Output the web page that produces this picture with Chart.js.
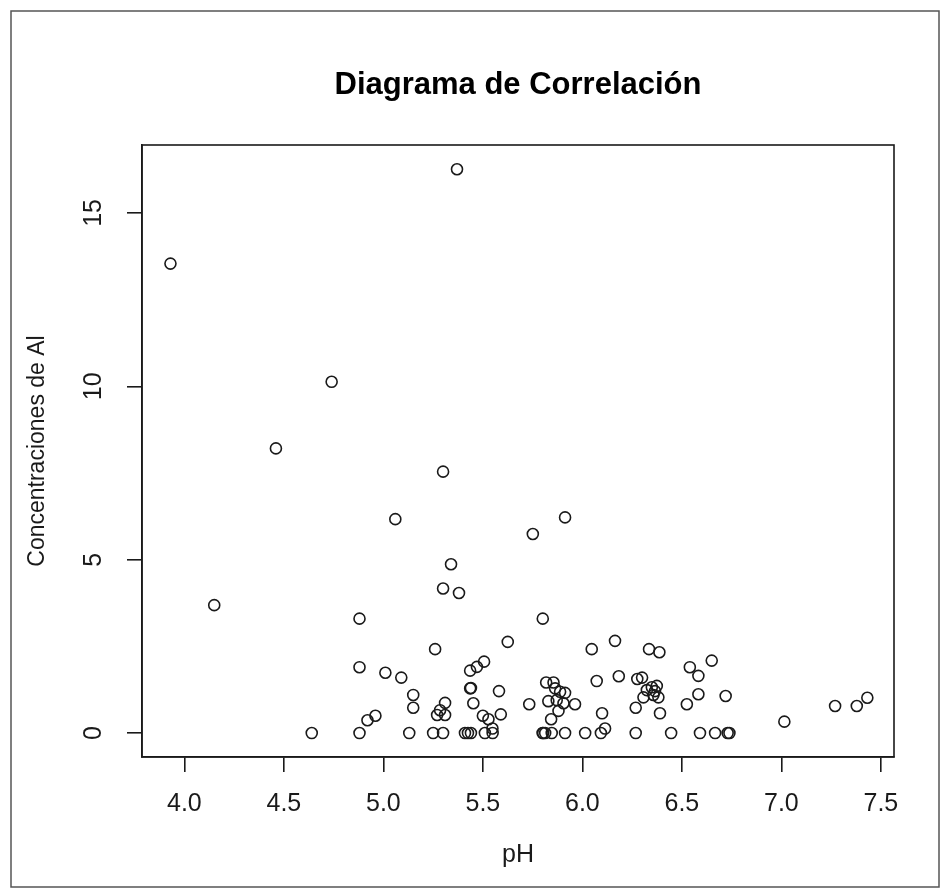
<!DOCTYPE html>
<html>
<head>
<meta charset="utf-8">
<script src="https://cdn.jsdelivr.net/npm/chart.js@4.4.1/dist/chart.umd.min.js"></script>
<style>
  html, body { margin: 0; padding: 0; background: #fff; }
  #wrap { position: relative; width: 949px; height: 888px; }
</style>
</head>
<body>
<div id="wrap"><canvas id="corr" width="949" height="888"></canvas></div>
<script>
// ---------------------- Data ----------------------
const phValues = [
  3.93, 4.15, 4.46, 4.74, 4.64, 4.88, 4.88, 4.88, 4.92, 4.96,
  5.01, 5.06, 5.09, 5.13, 5.15, 5.15, 5.25, 5.26, 5.27, 5.285,
  5.31, 5.31, 5.30, 5.30, 5.30, 5.34, 5.37, 5.38, 5.41, 5.425,
  5.44, 5.436, 5.47, 5.506, 5.436, 5.44, 5.452, 5.581, 5.50, 5.528,
  5.59, 5.548, 5.51, 5.549, 5.625, 5.733, 5.751, 5.801, 5.913, 5.818,
  5.855, 5.863, 5.888, 5.913, 5.829, 5.871, 5.905, 5.963, 5.88, 5.843,
  5.80, 5.803, 5.813, 5.846, 5.913, 6.014, 6.093, 6.114, 6.047, 6.164,
  6.072, 6.183, 6.099, 6.268, 6.268, 6.276, 6.30, 6.335, 6.387, 6.324,
  6.349, 6.374, 6.357, 6.382, 6.307, 6.39, 6.365, 6.446, 6.54, 6.583,
  6.583, 6.525, 6.591, 6.65, 6.72, 6.667, 6.73, 6.739, 7.015, 7.27,
  7.379, 7.432
];
const alValues = [
  13.54, 3.69, 8.21, 10.13, 0, 3.30, 1.90, 0, 0.37, 0.50,
  1.74, 6.17, 1.60, 0, 1.10, 0.73, 0, 2.42, 0.52, 0.66,
  0.87, 0.52, 0, 7.54, 4.17, 4.87, 16.26, 4.04, 0, 0,
  0, 1.80, 1.91, 2.06, 1.29, 1.30, 0.86, 1.21, 0.50, 0.40,
  0.54, 0.13, 0, 0, 2.63, 0.83, 5.74, 3.30, 6.22, 1.46,
  1.46, 1.29, 1.19, 1.16, 0.92, 0.95, 0.86, 0.83, 0.64, 0.40,
  0, 0, 0, 0, 0, 0, 0, 0.13, 2.42, 2.66,
  1.50, 1.64, 0.57, 0, 0.73, 1.56, 1.60, 2.42, 2.33, 1.24,
  1.32, 1.36, 1.10, 1.03, 1.03, 0.57, 1.21, 0, 1.90, 1.65,
  1.12, 0.83, 0, 2.09, 1.07, 0, 0, 0, 0.33, 0.78,
  0.78, 1.02
];
const xTicks = [4.0, 4.5, 5.0, 5.5, 6.0, 6.5, 7.0, 7.5];
const yTicks = [0, 5, 10, 15];

const TITLE = 'Diagrama de Correlación';
const XLAB = 'pH';
const YLAB = 'Concentraciones de Al';

// ---------------------- Style ----------------------
const INK = '#1a1a1a';
const FONT = '"Liberation Sans", Arial, sans-serif';

const points = phValues.map((x, i) => ({ x, y: alValues[i] }));

// R-like extras: box, title, axis labels, rotated y ticks, outer frame
const rDecor = {
  id: 'rDecor',
  beforeDraw(chart) {
    const ctx = chart.ctx;
    ctx.save();
    ctx.fillStyle = '#fff';
    ctx.fillRect(0, 0, chart.width, chart.height);
    ctx.restore();
  },
  afterDraw(chart) {
    const { ctx, chartArea: a, scales } = chart;
    ctx.save();
    // plot box
    ctx.strokeStyle = INK;
    ctx.lineWidth = 1.6;
    ctx.strokeRect(a.left, a.top, a.right - a.left, a.bottom - a.top);

    // outer frame of the picture
    ctx.strokeStyle = '#555';
    ctx.lineWidth = 1.5;
    ctx.strokeRect(11, 11, 928, 876);

    // y tick labels, rotated like R (las = 0)
    ctx.fillStyle = INK;
    ctx.font = `25px ${FONT}`;
    ctx.textAlign = 'center';
    ctx.textBaseline = 'middle';
    yTicks.forEach(v => {
      const py = scales.y.getPixelForValue(v);
      ctx.save();
      ctx.translate(94, py);
      ctx.rotate(-Math.PI / 2);
      ctx.fillText(String(v), 0, 0);
      ctx.restore();
    });

    // title
    const cx = (a.left + a.right) / 2;
    ctx.fillStyle = '#000';
    ctx.font = `bold 31px ${FONT}`;
    ctx.textBaseline = 'alphabetic';
    ctx.fillText(TITLE, cx, 94);

    // x label
    ctx.fillStyle = INK;
    ctx.font = `25px ${FONT}`;
    ctx.fillText(XLAB, cx, 862);

    // y label
    ctx.save();
    ctx.translate(44, (a.top + a.bottom) / 2);
    ctx.rotate(-Math.PI / 2);
    ctx.font = `23px ${FONT}`;
    ctx.fillText(YLAB, 0, 0);
    ctx.restore();
    ctx.restore();
  }
};

new Chart(document.getElementById('corr'), {
  type: 'scatter',
  data: {
    datasets: [{
      data: points,
      pointStyle: 'circle',
      pointRadius: 5.5,
      pointHoverRadius: 5.5,
      pointBorderWidth: 1.6,
      borderColor: INK,
      backgroundColor: 'rgba(0,0,0,0)',
    }],
  },
  options: {
    responsive: false,
    animation: false,
    events: [],
    layout: { padding: { top: 145, left: 0, right: 55, bottom: 31 } },
    plugins: { legend: { display: false }, tooltip: { enabled: false }, title: { display: false } },
    scales: {
      x: {
        type: 'linear',
        min: 3.787,
        max: 7.566,
        afterBuildTicks: (s) => { s.ticks = xTicks.map(v => ({ value: v })); },
        afterFit: (s) => { s.height = 100; },
        ticks: {
          font: { family: FONT, size: 25 },
          color: INK,
          padding: 17,
          maxRotation: 0,
          callback: (v) => Number(v).toFixed(1),
        },
        grid: { drawOnChartArea: false, drawTicks: true, tickLength: 15, tickColor: INK, lineWidth: 1.6 },
        border: { display: true, color: INK, width: 1.6 },
      },
      y: {
        type: 'linear',
        min: -0.69,
        max: 16.96,
        afterBuildTicks: (s) => { s.ticks = yTicks.map(v => ({ value: v })); },
        afterFit: (s) => { s.width = 142; },
        ticks: { display: false },
        grid: { drawOnChartArea: false, drawTicks: true, tickLength: 15, tickColor: INK, lineWidth: 1.6 },
        border: { display: true, color: INK, width: 1.6 },
      },
    },
  },
  plugins: [rDecor],
});
</script>
</body>
</html>
